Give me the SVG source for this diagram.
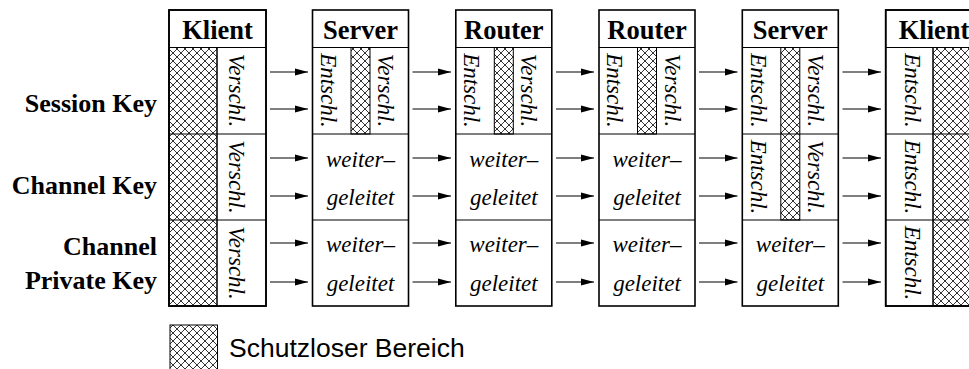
<svg xmlns="http://www.w3.org/2000/svg" width="969" height="369" viewBox="0 0 969 369">
<defs>
<pattern id="hatch" patternUnits="userSpaceOnUse" width="8" height="8" x="1" y="1">
<path d="M0,0 L8,8 M8,0 L0,8" stroke="#000" stroke-width="0.8" fill="none"/>
</pattern>
<marker id="ah" markerWidth="13" markerHeight="8" refX="13" refY="4" orient="auto" markerUnits="userSpaceOnUse">
<path d="M0,0.4 L13,4 L0,7.6 Z" fill="#000"/>
</marker>
</defs>
<style>
.box{fill:#fff;stroke:#000;stroke-width:1.6}
.div{stroke:#000;stroke-width:1;fill:none}
.h{fill:url(#hatch);stroke:#000;stroke-width:1}
.hdr{font-family:"Liberation Serif",serif;font-weight:bold;font-size:26.5px;text-anchor:middle}
.it{font-family:"Liberation Serif",serif;font-style:italic;font-size:23px;text-anchor:middle}
.itc{font-family:"Liberation Serif",serif;font-style:italic;font-size:23px;text-anchor:middle}
.lbl{font-family:"Liberation Serif",serif;font-weight:bold;font-size:26px;text-anchor:end}
.arr line{stroke:#000;stroke-width:1.2;marker-end:url(#ah)}
.leg{font-family:"Liberation Sans",Arial,sans-serif;font-size:26.5px}
</style>

<g id="labels">
<text class="lbl" x="157" y="112">Session Key</text>
<text class="lbl" x="157" y="194">Channel Key</text>
<text class="lbl" x="157" y="255">Channel</text>
<text class="lbl" x="157" y="289">Private Key</text>
</g>

<g id="klient1">
<rect class="box" x="169" y="10" width="97" height="296"/>
<rect class="h" x="169" y="47.5" width="48" height="258.5"/>
<line class="div" x1="169" y1="47.5" x2="266" y2="47.5"/>
<line class="div" x1="169" y1="134" x2="266" y2="134"/>
<line class="div" x1="169" y1="220" x2="266" y2="220"/>
<line class="div" x1="217" y1="47.5" x2="217" y2="306"/>
<rect x="169" y="10" width="97" height="296" fill="none" stroke="#000" stroke-width="1.6"/>
<text class="hdr" x="217.5" y="38.5">Klient</text>
<text class="it" transform="translate(229,90.5) rotate(90)">Verschl.</text>
<text class="it" transform="translate(229,177) rotate(90)">Verschl.</text>
<text class="it" transform="translate(229,263) rotate(90)">Verschl.</text>
</g>

<g id="server1">
<rect class="box" x="312.5" y="10" width="96" height="296"/>
<rect class="h" x="351" y="47.5" width="19" height="86.5"/>
<line class="div" x1="312.5" y1="47.5" x2="408.5" y2="47.5"/>
<line class="div" x1="312.5" y1="134" x2="408.5" y2="134"/>
<line class="div" x1="312.5" y1="220" x2="408.5" y2="220"/>
<text class="hdr" x="360.5" y="38.5">Server</text>
<text class="it" transform="translate(320.5,90.5) rotate(90)">Entschl.</text>
<text class="it" transform="translate(378,90.5) rotate(90)">Verschl.</text>
<text class="itc" x="360.5" y="166.5">weiter–</text>
<text class="itc" x="360.5" y="204.5">geleitet</text>
<text class="itc" x="360.5" y="252">weiter–</text>
<text class="itc" x="360.5" y="290.5">geleitet</text>
</g>

<g id="router1">
<rect class="box" x="455.8" y="10" width="96" height="296"/>
<rect class="h" x="494.3" y="47.5" width="19" height="86.5"/>
<line class="div" x1="455.8" y1="47.5" x2="551.8" y2="47.5"/>
<line class="div" x1="455.8" y1="134" x2="551.8" y2="134"/>
<line class="div" x1="455.8" y1="220" x2="551.8" y2="220"/>
<text class="hdr" x="503.8" y="38.5">Router</text>
<text class="it" transform="translate(463.8,90.5) rotate(90)">Entschl.</text>
<text class="it" transform="translate(521.3,90.5) rotate(90)">Verschl.</text>
<text class="itc" x="503.8" y="166.5">weiter–</text>
<text class="itc" x="503.8" y="204.5">geleitet</text>
<text class="itc" x="503.8" y="252">weiter–</text>
<text class="itc" x="503.8" y="290.5">geleitet</text>
</g>

<g id="router2">
<rect class="box" x="599" y="10" width="96" height="296"/>
<rect class="h" x="637.5" y="47.5" width="19" height="86.5"/>
<line class="div" x1="599" y1="47.5" x2="695" y2="47.5"/>
<line class="div" x1="599" y1="134" x2="695" y2="134"/>
<line class="div" x1="599" y1="220" x2="695" y2="220"/>
<text class="hdr" x="647" y="38.5">Router</text>
<text class="it" transform="translate(607,90.5) rotate(90)">Entschl.</text>
<text class="it" transform="translate(664.5,90.5) rotate(90)">Verschl.</text>
<text class="itc" x="647" y="166.5">weiter–</text>
<text class="itc" x="647" y="204.5">geleitet</text>
<text class="itc" x="647" y="252">weiter–</text>
<text class="itc" x="647" y="290.5">geleitet</text>
</g>

<g id="server2">
<rect class="box" x="742.3" y="10" width="96" height="296"/>
<rect class="h" x="780.8" y="47.5" width="19" height="172.5"/>
<line class="div" x1="742.3" y1="47.5" x2="838.3" y2="47.5"/>
<line class="div" x1="742.3" y1="134" x2="838.3" y2="134"/>
<line class="div" x1="742.3" y1="220" x2="838.3" y2="220"/>
<text class="hdr" x="790.3" y="38.5">Server</text>
<text class="it" transform="translate(751,90.5) rotate(90)">Entschl.</text>
<text class="it" transform="translate(807.5,90.5) rotate(90)">Verschl.</text>
<text class="it" transform="translate(751,177) rotate(90)">Entschl.</text>
<text class="it" transform="translate(807.5,177) rotate(90)">Verschl.</text>
<text class="itc" x="790.3" y="252">weiter–</text>
<text class="itc" x="790.3" y="290.5">geleitet</text>
</g>

<g id="klient2">
<rect class="box" x="885.7" y="10" width="97" height="296"/>
<rect class="h" x="933" y="47.5" width="49" height="258.5"/>
<line class="div" x1="885.7" y1="47.5" x2="982" y2="47.5"/>
<line class="div" x1="885.7" y1="134" x2="982" y2="134"/>
<line class="div" x1="885.7" y1="220" x2="982" y2="220"/>
<line class="div" x1="933" y1="47.5" x2="933" y2="306"/>
<rect x="885.7" y="10" width="97" height="296" fill="none" stroke="#000" stroke-width="1.6"/>
<text class="hdr" x="934" y="38.5">Klient</text>
<text class="it" transform="translate(904.5,90.5) rotate(90)">Entschl.</text>
<text class="it" transform="translate(904.5,177) rotate(90)">Entschl.</text>
<text class="it" transform="translate(904.5,263) rotate(90)">Entschl.</text>
</g>

<g id="connectors" class="arr">
<line x1="270" y1="72" x2="308" y2="72"/><line x1="270" y1="109" x2="308" y2="109"/><line x1="270" y1="158" x2="308" y2="158"/><line x1="270" y1="196" x2="308" y2="196"/><line x1="270" y1="243" x2="308" y2="243"/><line x1="270" y1="282" x2="308" y2="282"/>
<line x1="412.5" y1="72" x2="451" y2="72"/><line x1="412.5" y1="109" x2="451" y2="109"/><line x1="412.5" y1="158" x2="451" y2="158"/><line x1="412.5" y1="196" x2="451" y2="196"/><line x1="412.5" y1="243" x2="451" y2="243"/><line x1="412.5" y1="282" x2="451" y2="282"/>
<line x1="556" y1="72" x2="594" y2="72"/><line x1="556" y1="109" x2="594" y2="109"/><line x1="556" y1="158" x2="594" y2="158"/><line x1="556" y1="196" x2="594" y2="196"/><line x1="556" y1="243" x2="594" y2="243"/><line x1="556" y1="282" x2="594" y2="282"/>
<line x1="699" y1="72" x2="737.5" y2="72"/><line x1="699" y1="109" x2="737.5" y2="109"/><line x1="699" y1="158" x2="737.5" y2="158"/><line x1="699" y1="196" x2="737.5" y2="196"/><line x1="699" y1="243" x2="737.5" y2="243"/><line x1="699" y1="282" x2="737.5" y2="282"/>
<line x1="842.5" y1="72" x2="881" y2="72"/><line x1="842.5" y1="109" x2="881" y2="109"/><line x1="842.5" y1="158" x2="881" y2="158"/><line x1="842.5" y1="196" x2="881" y2="196"/><line x1="842.5" y1="243" x2="881" y2="243"/><line x1="842.5" y1="282" x2="881" y2="282"/>
</g>

<g id="legend">
<rect class="h" x="170" y="325" width="47.5" height="47"/>
<text class="leg" x="229" y="357">Schutzloser Bereich</text>
</g>
</svg>
